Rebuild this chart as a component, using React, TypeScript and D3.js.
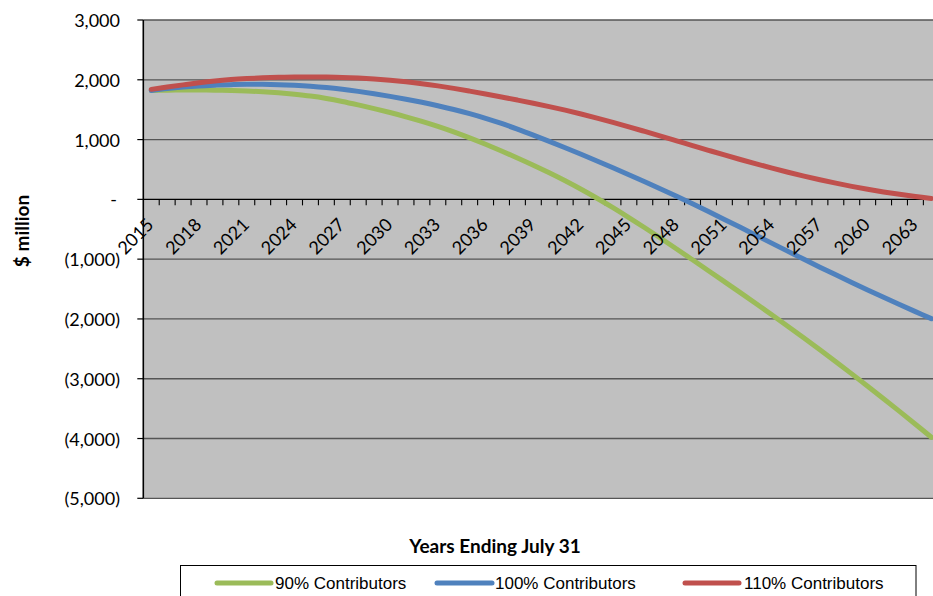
import React from "react";
import * as d3 from "d3";

// Fiscal years (ending July 31)
const years: number[] = [
  2015, 2016, 2017, 2018, 2019, 2020, 2021, 2022, 2023, 2024,
  2025, 2026, 2027, 2028, 2029, 2030, 2031, 2032, 2033, 2034,
  2035, 2036, 2037, 2038, 2039, 2040, 2041, 2042, 2043, 2044,
  2045, 2046, 2047, 2048, 2049, 2050, 2051, 2052, 2053, 2054,
  2055, 2056, 2057, 2058, 2059, 2060, 2061, 2062, 2063, 2064,
];

// Projected balance, $ million
const contrib90: number[] = [
  1820, 1826, 1830, 1830, 1826, 1820, 1812, 1800, 1782, 1758,
  1728, 1688, 1638, 1580, 1518, 1452, 1381, 1304, 1220, 1128,
  1028, 921, 809, 693, 572, 445, 311, 169, 19, -139,
  -304, -475, -651, -830, -1011, -1193, -1376, -1560, -1746, -1934,
  -2125, -2319, -2516, -2716, -2919, -3125, -3334, -3546, -3761, -3979,
];
const contrib100: number[] = [
  1822, 1855, 1880, 1898, 1910, 1919, 1924, 1924, 1919, 1908,
  1892, 1870, 1841, 1806, 1766, 1722, 1675, 1623, 1566, 1503,
  1433, 1355, 1269, 1175, 1075, 971, 864, 754, 642, 528,
  412, 294, 174, 51, -75, -204, -335, -468, -602, -736,
  -870, -1003, -1134, -1263, -1390, -1515, -1638, -1759, -1878, -1995,
];
const contrib110: number[] = [
  1840, 1878, 1915, 1950, 1980, 2003, 2020, 2033, 2041, 2046,
  2047, 2045, 2040, 2029, 2013, 1992, 1966, 1935, 1898, 1856,
  1810, 1762, 1712, 1661, 1608, 1552, 1492, 1428, 1360, 1288,
  1213, 1136, 1058, 979, 900, 821, 743, 667, 593, 522,
  454, 389, 328, 271, 218, 169, 124, 84, 48, 14,
];

const yTickValues: number[] = [3000, 2000, 1000, 0, -1000, -2000, -3000, -4000, -5000];
const seriesNames: string[] = ["90% Contributors", "100% Contributors", "110% Contributors"];
const seriesColors: string[] = ["#9BBB59", "#4F81BD", "#C0504D"];

const W = 933;
const H = 596;
const plotLeft = 143.3;
const plotRight = 939.3;
const plotTop = 20;
const plotBottom = 498.3;

const fmt = d3.format(",");
const accounting = (v: number) => (v === 0 ? "-" : v < 0 ? `(${fmt(-v)})` : fmt(v));

export default function App() {
  const x = d3
    .scaleBand<number>()
    .domain(years)
    .range([plotLeft, plotRight])
    .paddingInner(0)
    .paddingOuter(0);
  const bw = x.bandwidth();
  const cx = (yr: number) => (x(yr) as number) + bw / 2;
  const y = d3.scaleLinear().domain([-5000, 3000]).range([plotBottom, plotTop]);

  const line = d3
    .line<number>()
    .x((_, i) => cx(years[i]))
    .y((d) => y(d))
    .curve(d3.curveCatmullRom.alpha(0.5));

  const seriesData = [contrib90, contrib100, contrib110];
  const zeroY = y(0);
  const tickFont = "Lato, 'Open Sans', sans-serif";

  return (
    <svg
      width={W}
      height={H}
      style={{ position: "absolute", left: 0, top: 0, background: "#fff" }}
    >
      <defs>
        <clipPath id="plotClip">
          <rect x={plotLeft} y={plotTop - 4} width={plotRight - plotLeft} height={plotBottom - plotTop + 8} />
        </clipPath>
      </defs>

      {/* plot area */}
      <rect x={plotLeft} y={plotTop} width={plotRight - plotLeft} height={plotBottom - plotTop} fill="#C0C0C0" />

      {/* horizontal gridlines */}
      {yTickValues.map((v) => (
        <line
          key={`g${v}`}
          x1={plotLeft}
          x2={plotRight}
          y1={y(v)}
          y2={y(v)}
          stroke={v === 0 ? "#000" : "#555"}
          strokeWidth={v === 0 ? 1.4 : 1.3}
        />
      ))}

      {/* y axis */}
      <line x1={plotLeft} x2={plotLeft} y1={plotTop} y2={plotBottom} stroke="#000" strokeWidth={1.6} />
      {yTickValues.map((v) => (
        <g key={`yt${v}`}>
          <line x1={plotLeft - 6} x2={plotLeft} y1={y(v)} y2={y(v)} stroke="#000" strokeWidth={1.2} />
          <text
            x={v === 0 ? 117 : 120}
            y={y(v)}
            textAnchor="end"
            dominantBaseline="central"
            fontFamily={tickFont}
            fontSize={18}
            fill="#000"
          >
            {accounting(v)}
          </text>
        </g>
      ))}

      {/* category ticks on the zero line */}
      {years.map((yr) => (
        <line
          key={`xt${yr}`}
          x1={(x(yr) as number) + bw}
          x2={(x(yr) as number) + bw}
          y1={zeroY}
          y2={zeroY + 6}
          stroke="#000"
          strokeWidth={1.1}
        />
      ))}

      {/* series */}
      <g clipPath="url(#plotClip)">
        {seriesData.map((s, k) => (
          <path
            key={seriesNames[k]}
            d={line(s) || ""}
            fill="none"
            stroke={seriesColors[k]}
            strokeWidth={5}
            strokeLinecap="round"
            strokeLinejoin="round"
          />
        ))}
      </g>

      {/* year labels, every third year */}
      {years
        .filter((_, i) => i % 3 === 0)
        .map((yr) => {
          const ax = cx(yr) + 3.5;
          const ay = zeroY + 26.5;
          return (
            <text
              key={`xl${yr}`}
              x={ax}
              y={ay}
              transform={`rotate(-45 ${ax} ${ay})`}
              textAnchor="end"
              fontFamily={tickFont}
              fontSize={18}
              fill="#000"
            >
              {yr}
            </text>
          );
        })}

      {/* axis titles */}
      <text
        x={21}
        y={231}
        transform="rotate(-90 21 231)"
        textAnchor="middle"
        dominantBaseline="central"
        fontFamily={tickFont}
        fontWeight="bold"
        fontSize={19}
        fill="#000"
      >
        $ million
      </text>
      <text
        x={495}
        y={553}
        textAnchor="middle"
        fontFamily={tickFont}
        fontWeight="bold"
        fontSize={19}
        fill="#000"
      >
        Years Ending July 31
      </text>

      {/* legend */}
      <rect x={180.5} y={565.5} width={735.5} height={45} fill="#fff" stroke="#000" strokeWidth={1} />
      {[
        { x1: 217, x2: 271, tx: 275 },
        { x1: 437, x2: 492, tx: 495 },
        { x1: 685, x2: 739, tx: 744 },
      ].map((p, k) => (
        <g key={`lg${k}`}>
          <line
            x1={p.x1}
            x2={p.x2}
            y1={583}
            y2={583}
            stroke={seriesColors[k]}
            strokeWidth={5}
            strokeLinecap="round"
          />
          <text
            x={p.tx}
            y={589}
            fontFamily="'Liberation Sans', Arial, sans-serif"
            fontSize={17}
            fill="#000"
          >
            {seriesNames[k]}
          </text>
        </g>
      ))}
    </svg>
  );
}
